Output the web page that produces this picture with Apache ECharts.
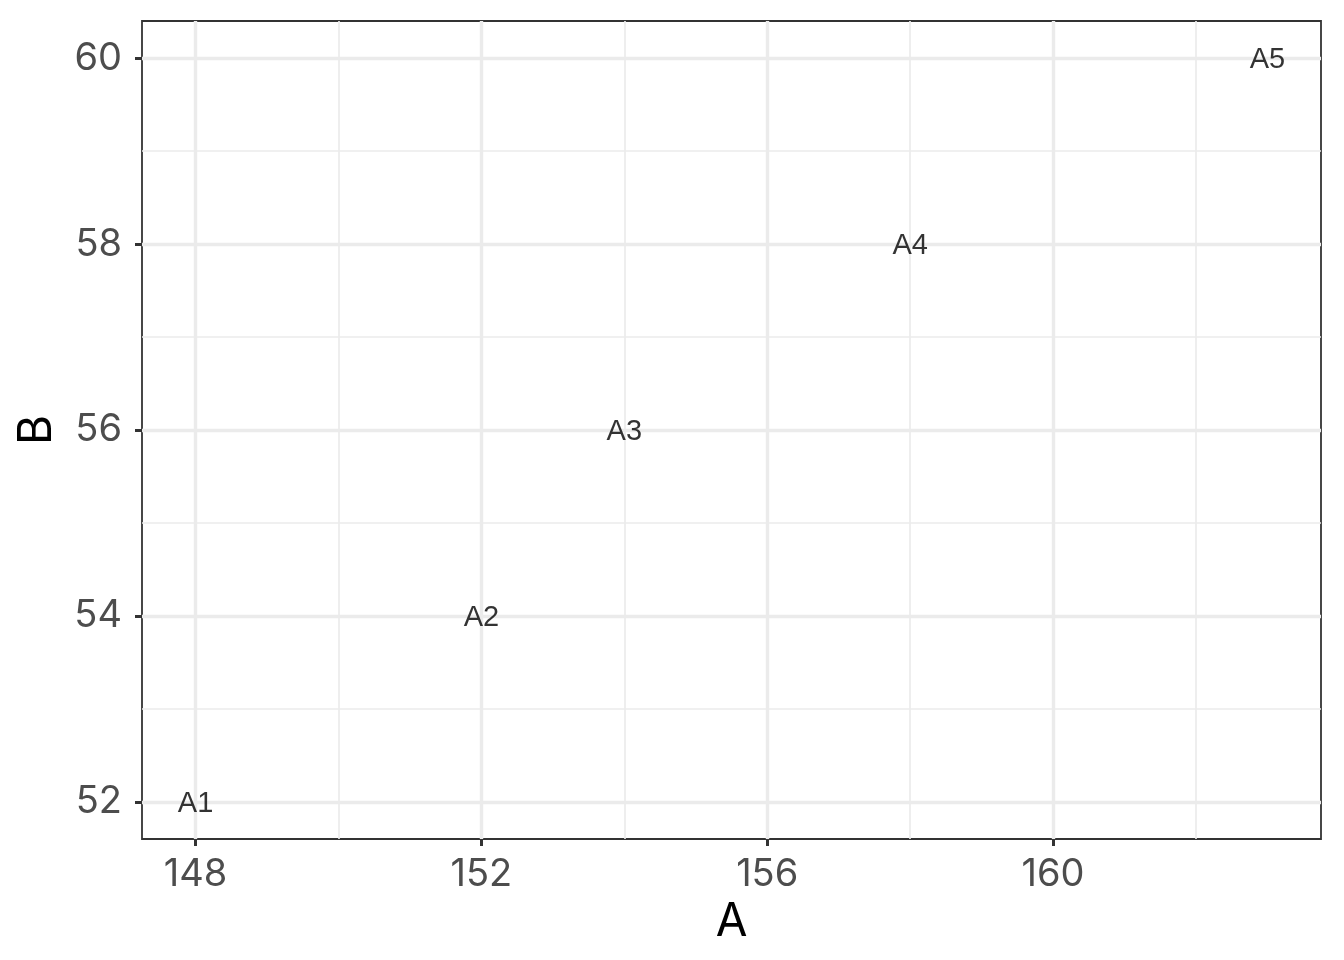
<!DOCTYPE html>
<html>
<head>
<meta charset="utf-8">
<script src="https://cdn.jsdelivr.net/npm/echarts@6/dist/echarts.min.js"></script>
<style>
html,body{margin:0;padding:0;background:#fff;}
#chart{width:1344px;height:960px;}
</style>
</head>
<body>
<div id="chart"></div>
<script>
const labels = ['A1','A2','A3','A4','A5'];
const xValues = [148, 152, 154, 158, 163];
const yValues = [52, 54, 56, 58, 60];
const xMajorTicks = [148, 152, 156, 160];
const xMinorTicks = [150, 154, 158, 162];
const yMajorTicks = [52, 54, 56, 58, 60];
const yMinorTicks = [53, 55, 57, 59];
const xTitle = 'A';
const yTitle = 'B';

const xRange = [147.25, 163.75];
const yRange = [51.6, 60.4];

const tickFont = 'Inter, "Noto Sans CJK JP", sans-serif';
const labelFont = '"Liberation Sans", Arial, sans-serif';

const chart = echarts.init(document.getElementById('chart'), null, {renderer: 'canvas'});

const majorSplit = {show: true, lineStyle: {color: '#EBEBEB', width: 3.4}};
const minorSplit = {show: true, lineStyle: {color: '#EBEBEB', width: 1.7}};

const option = {
  backgroundColor: '#ffffff',
  animation: false,
  grid: {
    left: 142, right: 23, top: 21, bottom: 121,
    show: true, borderColor: '#333333', borderWidth: 1.8, backgroundColor: 'transparent',
    containLabel: false
  },
  xAxis: [
    {
      type: 'value', min: xRange[0], max: xRange[1], position: 'bottom',
      axisLine: {show: false},
      axisTick: {show: true, customValues: xMinorTicks, length: 0, lineStyle: {width: 0}},
      axisLabel: {show: false},
      splitLine: minorSplit, z: 0
    },
    {
      type: 'value', min: xRange[0], max: xRange[1], position: 'bottom',
      name: xTitle, nameLocation: 'middle', nameGap: 59,
      nameTextStyle: {fontFamily: tickFont, fontSize: 46, color: '#000000'},
      axisLine: {show: false},
      axisTick: {show: true, customValues: xMajorTicks, length: 7, lineStyle: {color: '#333333', width: 3}},
      axisLabel: {show: true, customValues: xMajorTicks, margin: 17, fontFamily: tickFont, fontSize: 38, color: '#4D4D4D'},
      splitLine: majorSplit, z: 1
    }
  ],
  yAxis: [
    {
      type: 'value', min: yRange[0], max: yRange[1], position: 'left',
      axisLine: {show: false},
      axisTick: {show: true, customValues: yMinorTicks, length: 0, lineStyle: {width: 0}},
      axisLabel: {show: false},
      splitLine: minorSplit, z: 0
    },
    {
      type: 'value', min: yRange[0], max: yRange[1], position: 'left',
      name: yTitle, nameLocation: 'middle', nameGap: 82, nameRotate: 90,
      nameTextStyle: {fontFamily: tickFont, fontSize: 46, color: '#000000'},
      axisLine: {show: false},
      axisTick: {show: true, customValues: yMajorTicks, length: 7, lineStyle: {color: '#333333', width: 3}},
      axisLabel: {show: true, customValues: yMajorTicks, margin: 20, fontFamily: tickFont, fontSize: 38, color: '#4D4D4D'},
      splitLine: majorSplit, z: 1
    }
  ],
  series: [{
    type: 'scatter',
    xAxisIndex: 1, yAxisIndex: 1,
    symbol: 'circle', symbolSize: 1,
    itemStyle: {color: 'rgba(0,0,0,0)'},
    data: xValues.map((x, i) => ({value: [x, yValues[i]], name: labels[i]})),
    label: {
      show: true, position: 'inside', formatter: p => p.name, offset: [0, 2],
      fontFamily: labelFont, fontSize: 29, color: '#000000', textBorderWidth: 0
    },
    emphasis: {disabled: true},
    z: 5
  }]
};
chart.setOption(option);
</script>
</body>
</html>
